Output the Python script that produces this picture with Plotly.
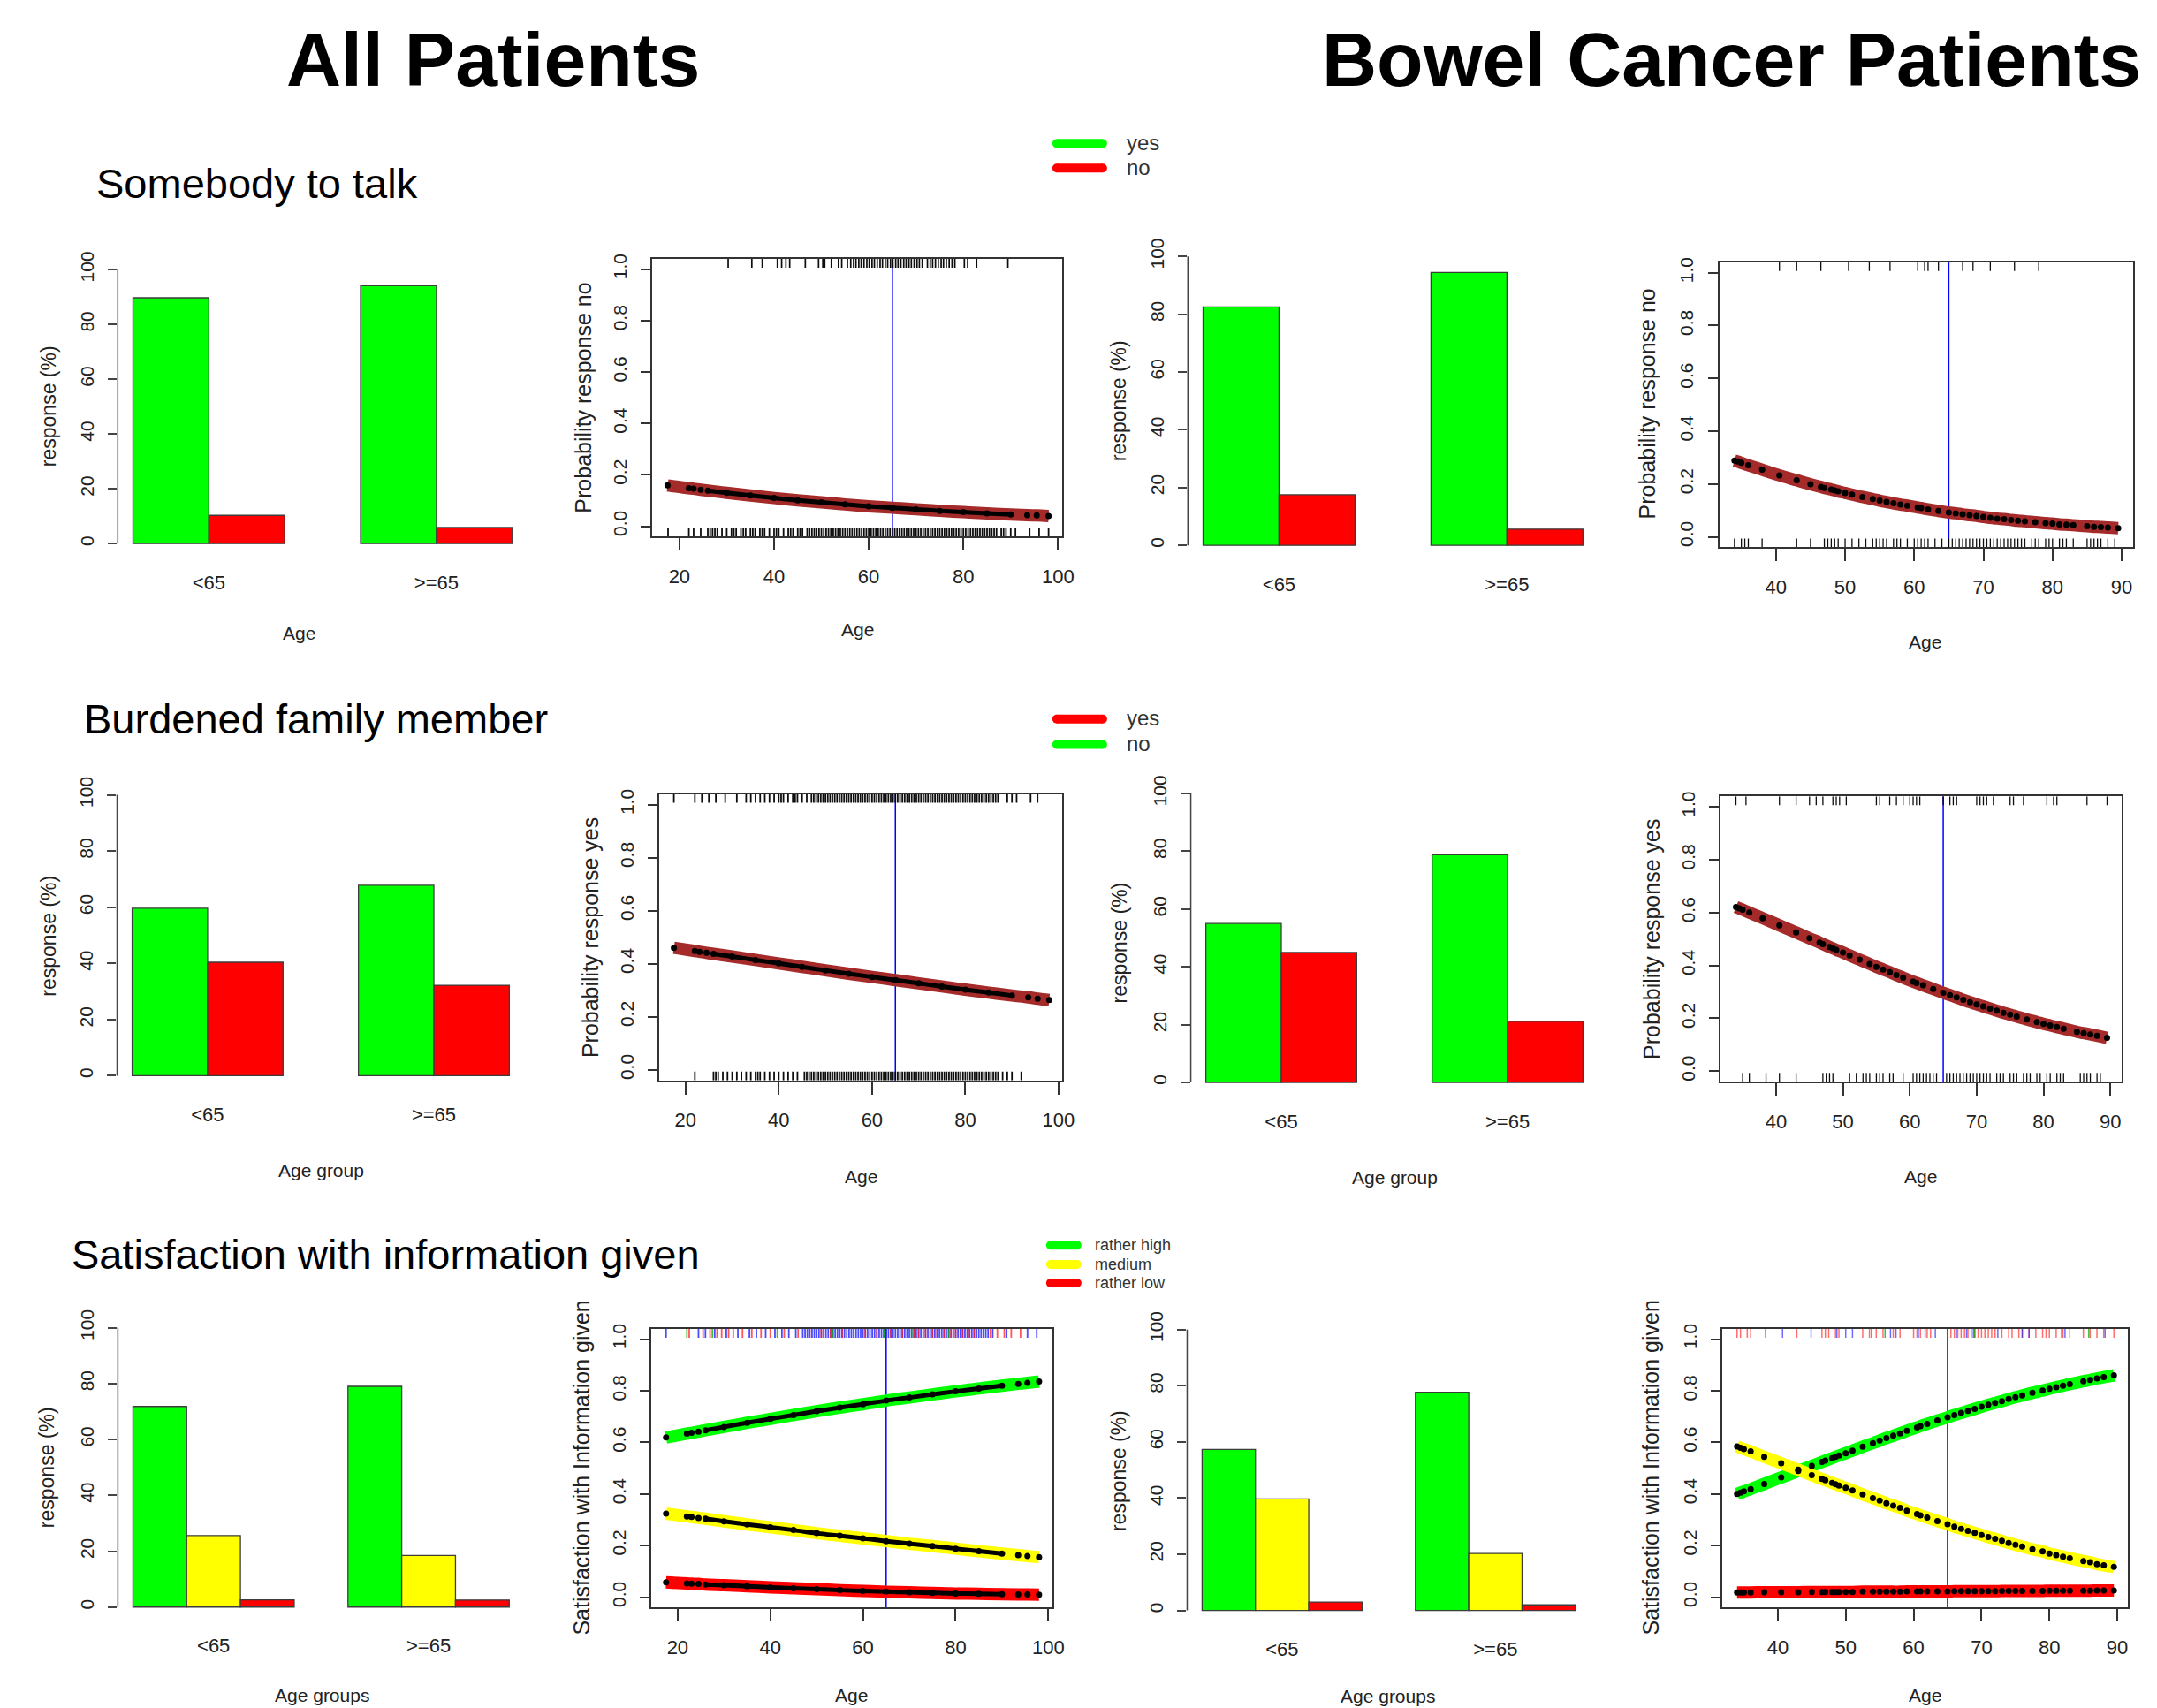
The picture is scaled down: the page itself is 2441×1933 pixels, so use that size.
import plotly.graph_objects as go

W, H = 2441, 1933
FONT = "Liberation Sans, Arial, Helvetica, sans-serif"
NARROW = "Liberation Sans Narrow, Arial Narrow, Liberation Sans, Arial, sans-serif"

GREEN, RED, YELLOW = "#00FF00", "#FF0000", "#FFFF00"
BROWN = "#A52A2A"
BLUE = "#0000FF"
INK = "#222222"

# ------------------------------------------------------------------ data
AGE_GROUPS = ["<65", ">=65"]
AGE_CUTOFF = 65

# Somebody to talk (green = yes, red = no), %
TALK_ALL_YES = [89.7, 94.1]
TALK_ALL_NO = [10.3, 5.9]
TALK_BOWEL_YES = [82.5, 94.4]
TALK_BOWEL_NO = [17.5, 5.6]
# Burdened family member (green = no, red = yes), %
BURDEN_ALL_NO = [59.6, 67.8]
BURDEN_ALL_YES = [40.4, 32.2]
BURDEN_BOWEL_NO = [55.0, 78.8]
BURDEN_BOWEL_YES = [45.0, 21.2]
# Satisfaction with information given, %
SAT_ALL_HIGH = [71.8, 79.0]
SAT_ALL_MED = [25.6, 18.5]
SAT_ALL_LOW = [2.6, 2.5]
SAT_BOWEL_HIGH = [57.3, 77.7]
SAT_BOWEL_MED = [39.7, 20.3]
SAT_BOWEL_LOW = [3.0, 2.0]

# fitted probabilities
ALL_CURVE_AGES = [17.5, 22, 23, 24.5, 26, 30, 35, 40, 45, 50, 55, 60, 65, 70, 75, 80, 85, 90, 93.5, 95.5, 98]
TALK_ALL_P_NO = [0.159, 0.148, 0.146, 0.142, 0.139, 0.130, 0.120, 0.110, 0.101, 0.093, 0.085,
                 0.078, 0.072, 0.066, 0.060, 0.055, 0.050, 0.046, 0.043, 0.042, 0.040]
BURDEN_ALL_P_YES = [0.460, 0.448, 0.445, 0.441, 0.437, 0.427, 0.414, 0.401, 0.388, 0.375, 0.362,
                    0.350, 0.338, 0.326, 0.314, 0.302, 0.291, 0.280, 0.273, 0.268, 0.263]
SAT_ALL_P_HIGH = [0.619, 0.634, 0.637, 0.642, 0.647, 0.660, 0.676, 0.691, 0.706, 0.721, 0.735,
                  0.748, 0.762, 0.774, 0.786, 0.798, 0.809, 0.820, 0.827, 0.831, 0.836]
SAT_ALL_P_MED = [0.324, 0.313, 0.311, 0.307, 0.304, 0.294, 0.282, 0.271, 0.260, 0.248, 0.238,
                 0.228, 0.217, 0.207, 0.198, 0.188, 0.178, 0.169, 0.163, 0.159, 0.155]
SAT_ALL_P_LOW = [0.057, 0.053, 0.052, 0.051, 0.049, 0.046, 0.042, 0.038, 0.034, 0.031, 0.027,
                 0.024, 0.021, 0.019, 0.016, 0.014, 0.013, 0.011, 0.010, 0.010, 0.0095]

BOWEL_CURVE_AGES = [34, 34.5, 35, 36, 38, 40.5, 43, 45, 46.5, 47, 48, 48.5, 49, 50, 51, 52.5, 54, 55,
                    56, 57, 58, 59, 60.5, 61, 62, 63.5, 65, 66, 67, 68, 69, 70, 71, 72, 73, 74, 75,
                    76, 77.5, 79, 80, 81, 82, 83, 85, 86, 87, 88, 89.5]
TALK_BOWEL_P_NO = [0.289, 0.285, 0.280, 0.271, 0.254, 0.233, 0.214, 0.199, 0.189, 0.185, 0.179,
                   0.176, 0.172, 0.166, 0.160, 0.151, 0.143, 0.137, 0.132, 0.127, 0.122, 0.118,
                   0.111, 0.109, 0.104, 0.098, 0.092, 0.089, 0.085, 0.082, 0.079, 0.075, 0.072,
                   0.069, 0.067, 0.064, 0.061, 0.059, 0.055, 0.052, 0.050, 0.047, 0.046, 0.044,
                   0.040, 0.038, 0.037, 0.035, 0.033]
BURDEN_BOWEL_P_YES = [0.621, 0.616, 0.611, 0.600, 0.579, 0.552, 0.525, 0.503, 0.487, 0.481, 0.470,
                      0.465, 0.459, 0.449, 0.438, 0.422, 0.406, 0.395, 0.385, 0.375, 0.364, 0.354,
                      0.339, 0.334, 0.325, 0.311, 0.297, 0.288, 0.279, 0.270, 0.261, 0.253, 0.245,
                      0.237, 0.229, 0.221, 0.214, 0.207, 0.196, 0.186, 0.179, 0.173, 0.167, 0.161,
                      0.149, 0.144, 0.139, 0.134, 0.126]
SAT_BOWEL_P_HIGH = [0.400, 0.405, 0.410, 0.419, 0.439, 0.464, 0.489, 0.509, 0.524, 0.529, 0.539,
                    0.544, 0.549, 0.558, 0.568, 0.583, 0.597, 0.607, 0.617, 0.626, 0.635, 0.645,
                    0.658, 0.663, 0.672, 0.685, 0.697, 0.706, 0.714, 0.722, 0.730, 0.738, 0.746,
                    0.753, 0.760, 0.768, 0.775, 0.782, 0.792, 0.801, 0.808, 0.814, 0.820, 0.826,
                    0.837, 0.842, 0.848, 0.853, 0.860]
SAT_BOWEL_P_MED = [0.584, 0.579, 0.574, 0.565, 0.544, 0.519, 0.494, 0.473, 0.458, 0.453, 0.443,
                   0.438, 0.433, 0.424, 0.414, 0.398, 0.384, 0.374, 0.364, 0.355, 0.346, 0.335,
                   0.322, 0.317, 0.308, 0.295, 0.283, 0.273, 0.265, 0.257, 0.249, 0.241, 0.233,
                   0.226, 0.218, 0.210, 0.203, 0.196, 0.186, 0.177, 0.169, 0.163, 0.157, 0.151,
                   0.140, 0.135, 0.128, 0.123, 0.117]
SAT_BOWEL_P_LOW = [0.018, 0.018, 0.018, 0.018, 0.019, 0.019, 0.019, 0.020, 0.020, 0.020, 0.020,
                   0.020, 0.020, 0.020, 0.020, 0.021, 0.021, 0.021, 0.021, 0.021, 0.021, 0.022,
                   0.022, 0.022, 0.022, 0.022, 0.022, 0.023, 0.023, 0.023, 0.023, 0.023, 0.023,
                   0.023, 0.024, 0.024, 0.024, 0.024, 0.024, 0.024, 0.025, 0.025, 0.025, 0.025,
                   0.025, 0.025, 0.026, 0.026, 0.026]

# rug ages (observations)
ALL_DENSE_AGES = [47, 47.5, 48, 48.5, 49, 49.5, 50, 50.5, 51, 51.5, 52, 52.5, 53, 53.5, 54, 54.5,
                  55, 55.5, 56, 56.5, 57, 57.5, 58, 58.5, 59, 59.5, 60, 60.5, 61, 61.5, 62, 62.5,
                  63, 63.5, 64, 64.5, 65, 65.5, 66, 66.5, 67, 67.5, 68, 68.5, 69, 69.5, 70, 70.5,
                  71, 71.5, 72, 72.5, 73, 73.5, 74, 74.5, 75, 75.5, 76, 76.5, 77, 77.5, 78, 78.5,
                  79, 79.5, 80, 80.5, 81, 81.5, 82, 82.5, 83, 83.5, 84, 84.5, 85, 85.5, 86, 86.5, 87]
TALK_ALL_RUG_NO = [30.3, 35.3, 37.5, 40.7, 41.6, 42.5, 43.3, 46.6, 49.4, 50.3, 50.7, 52.1, 53.6, 54.3,
                   55.5, 56.2, 56.8, 57.3, 57.9, 58.4, 59.0, 59.6, 60.1, 60.7, 61.2, 61.8, 62.4, 62.9,
                   63.5, 64.0, 64.6, 65.1, 65.7, 66.2, 66.8, 67.4, 67.9, 68.5, 69.0, 69.6, 70.2, 70.7,
                   71.3, 72.4, 73.0, 73.5, 74.1, 74.7, 75.3, 75.8, 76.4, 77.0, 77.6, 78.2, 80.2, 80.9,
                   82.8, 89.4]
TALK_ALL_RUG_YES = [17.6, 22, 23, 24.5, 26, 26.5, 27, 27.5, 28, 29, 30, 31, 31.5, 32, 33, 33.5, 34,
                    35, 35.5, 36, 37, 37.5, 38, 39, 40, 40.5, 41, 42, 43, 43.5, 44, 45, 45.5, 46] \
    + ALL_DENSE_AGES + [88, 88.5, 89, 90, 91, 94, 96, 98]
BURDEN_ALL_RUG_YES = [17.5, 22, 23.5, 25, 26.5, 28.5, 31, 33, 34, 35, 36, 37, 38, 39, 40, 40.5, 41,
                      42, 43, 43.5, 44, 45, 46] + ALL_DENSE_AGES + [89, 90, 91, 94, 95.5]
BURDEN_ALL_RUG_NO = [22, 26, 26.5, 27, 28, 29, 30, 31, 32, 33, 34, 35, 35.5, 36, 37, 38, 39, 40, 41,
                     42, 43, 44, 45.5, 46, 46.5] + ALL_DENSE_AGES + [88, 89, 90, 92]
SAT_ALL_RUG_BLUE = [17.5, 24.5, 26, 28, 30.5, 33, 35.5, 37, 39, 41, 42.5, 44, 45.5] \
    + ALL_DENSE_AGES + [88, 91, 95.5, 97.5]
SAT_ALL_RUG_RED = [22.5, 25.5, 27, 28.5, 29.5, 31, 32, 34, 36, 38, 40, 43, 46, 48.5, 51, 53, 55.5,
                   58, 60.5, 63, 66, 68.5, 71, 72, 73.5, 75, 76, 77.5, 79, 80, 81.5, 83, 84, 86,
                   87.5, 89, 90.5, 92, 94]
SAT_ALL_RUG_GREEN = [22, 27.5, 41.5, 53.5, 64.5, 70.5, 78.5]

TALK_BOWEL_RUG_NO = [40.5, 43, 46.5, 50.5, 53.5, 56.5, 60.5, 61.5, 62, 63.5, 67, 68.5, 71, 74.5, 78]
TALK_BOWEL_RUG_YES = [34, 35, 35.5, 36, 38, 43, 45, 47, 47.5, 48, 48.5, 49, 50, 51, 52, 53, 54, 54.5,
                      55, 55.5, 56, 57, 57.5, 58, 59, 60, 60.5, 61, 61.5, 62, 63, 64, 65, 65.5, 66,
                      66.5, 67, 67.5, 68, 68.5, 69, 69.5, 70, 70.5, 71, 71.5, 72, 72.5, 73, 73.5, 74,
                      74.5, 75, 75.5, 76, 77, 77.5, 78, 79, 79.5, 80, 81, 81.5, 82, 83, 85, 85.5,
                      86, 86.5, 87, 88, 89]
BURDEN_BOWEL_RUG_YES = [34, 35.5, 40.5, 43, 45, 46, 47, 48.5, 49, 49.5, 50.5, 55, 55.5, 57, 58, 59,
                        60, 60.5, 61, 61.5, 65, 66, 66.5, 67, 70, 70.5, 71, 71.5, 72.5, 75, 75.5,
                        77, 80.5, 81.5, 82, 86.5, 89.5]
BURDEN_BOWEL_RUG_NO = [35, 36, 38.5, 40.5, 43, 47, 47.5, 48, 48.5, 51, 52, 53, 53.5, 54, 55, 55.5,
                       56, 57, 57.5, 59, 60.5, 61, 61.5, 62, 62.5, 63, 63.5, 64, 65.5, 66, 66.5, 67,
                       67.5, 68, 68.5, 69, 69.5, 70, 70.5, 71, 71.5, 72, 73, 73.5, 74, 75, 75.5, 76,
                       77, 77.5, 78, 79, 79.5, 80.5, 81, 82, 82.5, 83, 85.5, 86, 86.5, 87, 88, 88.5]
SAT_BOWEL_RUG_RED = [34, 34.5, 35.5, 36, 42.8, 46.5, 47, 47.5, 48.5, 49, 52.5, 53.5, 54.5, 55.5, 57,
                     58, 60, 60.5, 61, 62, 62.5, 65, 65.5, 66, 66.5, 67, 67.5, 68, 68.5, 69, 69.5,
                     70, 70.5, 71, 71.5, 72, 73, 74, 74.5, 75.5, 76, 77, 78, 79, 79.5, 80, 81, 82,
                     83, 85, 86, 87, 88, 89.5]
SAT_BOWEL_RUG_BLUE = [38.2, 40.7, 44.9, 48.7, 50, 51, 53.8, 56.6, 57.4, 60.7, 61.7, 63.2, 66.3, 67.8,
                      68.8, 72.4, 76, 77, 81.8, 82.3, 88.2]
SAT_BOWEL_RUG_GREEN = [55.8, 69, 85.8]

# ------------------------------------------------------------------ helpers
fig = go.Figure()
shapes, annotations, axes = [], [], {}
ROW_DY = {1: -6, 2: -3, 3: 0}
SX = 1.0065          # horizontal correction of the captured page
TICK_FS = 22
XTITLE_FS = 21


def names(i):
    s = "" if i == 1 else str(i)
    return "x" + s, "y" + s, "xaxis" + s, "yaxis" + s


def px(x):
    return min(1.0, x * SX / W)


def py(y):
    return 1 - y / H


def text(s, x, y, size, family=FONT, angle=0, anchor="center", color=INK):
    annotations.append(dict(text=s, x=px(x), y=py(y), xref="paper", yref="paper", showarrow=False,
                            xanchor=anchor, yanchor="middle", textangle=angle,
                            font=dict(family=family, size=size, color=color)))


def bar_panel(i, box, series, colors, dy=0, standoff=16):
    x0, x1, ytop, ybot = box
    ytop += dy
    ybot += dy
    xr, yr, xa, ya = names(i)
    n = len(series)
    w = 1.0 / (n + 1)
    for k, (vals, col) in enumerate(zip(series, colors)):
        fig.add_trace(go.Bar(x=AGE_GROUPS, y=vals, xaxis=xr, yaxis=yr, width=w,
                             offset=-n * w / 2 + k * w,
                             marker=dict(color=col, line=dict(color="#3c3c3c", width=1.3)),
                             hoverinfo="skip"))
    ext = 0.04 * (2 * n + 1) * w
    axes[xa] = dict(domain=[px(x0), px(x1)], anchor=yr, type="category",
                    range=[-n * w / 2 - ext, 1 + n * w / 2 + ext],
                    showline=False, showgrid=False, zeroline=False, ticks="",
                    tickfont=dict(family=NARROW, size=TICK_FS, color=INK),
                    ticklabelstandoff=standoff)
    axes[ya] = dict(domain=[py(ybot), py(ytop)], anchor=xr, range=[-4, 104],
                    tickvals=[0, 20, 40, 60, 80, 100], ticks="outside", ticklen=10, tickwidth=1.5,
                    tickcolor="#444", tickangle=-90,
                    tickfont=dict(family=FONT, size=21, color=INK),
                    showline=False, showgrid=False, zeroline=False, ticklabelstandoff=8)
    shapes.append(dict(type="line", xref=xr + " domain", yref=yr, x0=0, x1=0, y0=0, y1=100,
                       line=dict(color="#444", width=1.5)))


def rug_trace(ages, y0, y1, color, width, xr, yr):
    xs, ys = [], []
    for a in ages:
        xs += [a, a, None]
        ys += [y0, y1, None]
    fig.add_trace(go.Scatter(x=xs, y=ys, mode="lines", line=dict(color=color, width=width),
                             xaxis=xr, yaxis=yr, hoverinfo="skip"))


def prob_panel(i, box, xrange_, xticks, curves, rugs, dense=None, dy=0):
    x0, x1, ytop, ybot = box
    ytop += dy
    ybot += dy
    xr, yr, xa, ya = names(i)
    ylo, yhi = -0.04, 1.04
    unit = (ybot - ytop) / (yhi - ylo)
    rlen = 10 / unit
    for ages, where, color, width in rugs:
        if where == "bottom":
            rug_trace(ages, ylo, ylo + rlen, color, width, xr, yr)
        else:
            rug_trace(ages, yhi - rlen, yhi, color, width, xr, yr)
    for ages, vals, band in curves:
        fig.add_trace(go.Scatter(x=ages, y=vals, mode="lines",
                                 line=dict(color=band, width=14, shape="spline"),
                                 xaxis=xr, yaxis=yr, hoverinfo="skip"))
    for ages, vals, band in curves:
        if dense:
            da = [a for a in ages if dense[0] <= a <= dense[1]]
            dv = [v for a, v in zip(ages, vals) if dense[0] <= a <= dense[1]]
            fig.add_trace(go.Scatter(x=da, y=dv, mode="lines",
                                     line=dict(color="black", width=5, shape="spline"),
                                     xaxis=xr, yaxis=yr, hoverinfo="skip"))
        fig.add_trace(go.Scatter(x=ages, y=vals, mode="markers",
                                 marker=dict(color="black", size=7),
                                 xaxis=xr, yaxis=yr, hoverinfo="skip"))
    axes[xa] = dict(domain=[px(x0), px(x1)], anchor=yr, range=xrange_, tickvals=xticks,
                    ticks="outside", ticklen=14, tickwidth=1.5, tickcolor="#333",
                    showline=True, mirror=True, linecolor="#333", linewidth=2,
                    showgrid=False, zeroline=False,
                    tickfont=dict(family=NARROW, size=TICK_FS, color=INK), ticklabelstandoff=10)
    axes[ya] = dict(domain=[py(ybot), py(ytop)], anchor=xr, range=[ylo, yhi],
                    tickvals=[0, 0.2, 0.4, 0.6, 0.8, 1.0],
                    ticktext=["0.0", "0.2", "0.4", "0.6", "0.8", "1.0"],
                    ticks="outside", ticklen=11, tickwidth=1.5, tickcolor="#333", tickangle=-90,
                    showline=True, mirror=True, linecolor="#333", linewidth=2,
                    showgrid=False, zeroline=False,
                    tickfont=dict(family=FONT, size=21, color=INK), ticklabelstandoff=8)
    shapes.append(dict(type="line", xref=xr, yref=yr + " domain", x0=AGE_CUTOFF, x1=AGE_CUTOFF,
                       y0=0, y1=1, line=dict(color=BLUE, width=1.5), layer="below"))


def legend_key(xa, xb, y, color, thick=10):
    r = thick / 2
    shapes.append(dict(type="line", xref="paper", yref="paper", x0=px(xa + r), x1=px(xb - r),
                       y0=py(y), y1=py(y), line=dict(color=color, width=thick)))
    for cx in (xa + r, xb - r):
        shapes.append(dict(type="circle", xref="paper", yref="paper", x0=px(cx - r), x1=px(cx + r),
                           y0=py(y + r), y1=py(y - r), fillcolor=color, line=dict(width=0)))


BLACK_RUG = "rgba(0,0,0,0.95)"

# ------------------------------------------------------------------ panels
d = ROW_DY[1]
bar_panel(1, (133.2, 596.5, 291.8, 628.2), [TALK_ALL_YES, TALK_ALL_NO], [GREEN, RED], dy=d)
prob_panel(2, (737.8, 1201.3, 292.3, 607.7), [14.3, 100.9], [20, 40, 60, 80, 100],
           [(ALL_CURVE_AGES, TALK_ALL_P_NO, BROWN)],
           [(TALK_ALL_RUG_NO, "top", BLACK_RUG, 1.7),
            (TALK_ALL_RUG_YES, "bottom", BLACK_RUG, 1.8)], dense=(25, 92), dy=d)
bar_panel(3, (1343.3, 1807.2, 276.2, 630.8), [TALK_BOWEL_YES, TALK_BOWEL_NO], [GREEN, RED], dy=d)
prob_panel(4, (1944.2, 2411.8, 296.0, 620.0), [31.8, 91.6], [40, 50, 60, 70, 80, 90],
           [(BOWEL_CURVE_AGES, TALK_BOWEL_P_NO, BROWN)],
           [(TALK_BOWEL_RUG_NO, "top", BLACK_RUG, 1.3),
            (TALK_BOWEL_RUG_YES, "bottom", BLACK_RUG, 1.3)], dy=d)

d = ROW_DY[2]
bar_panel(5, (132.4, 593.0, 885.5, 1230.2), [BURDEN_ALL_NO, BURDEN_ALL_YES], [GREEN, RED], dy=d)
prob_panel(6, (745.7, 1201.3, 897.3, 1222.7), [14.4, 100.8], [20, 40, 60, 80, 100],
           [(ALL_CURVE_AGES, BURDEN_ALL_P_YES, BROWN)],
           [(BURDEN_ALL_RUG_YES, "top", BLACK_RUG, 1.8),
            (BURDEN_ALL_RUG_NO, "bottom", BLACK_RUG, 1.8)], dense=(25, 92), dy=d)
bar_panel(7, (1346.6, 1807.2, 883.6, 1238.3), [BURDEN_BOWEL_NO, BURDEN_BOWEL_YES], [GREEN, RED], dy=d)
prob_panel(8, (1945.7, 2399.0, 900.0, 1224.3), [31.7, 91.65], [40, 50, 60, 70, 80, 90],
           [(BOWEL_CURVE_AGES, BURDEN_BOWEL_P_YES, BROWN)],
           [(BURDEN_BOWEL_RUG_YES, "top", BLACK_RUG, 1.3),
            (BURDEN_BOWEL_RUG_NO, "bottom", BLACK_RUG, 1.3)], dy=d)

d = ROW_DY[3]
bar_panel(9, (133.3, 592.9, 1488.1, 1831.0), [SAT_ALL_HIGH, SAT_ALL_MED, SAT_ALL_LOW],
          [GREEN, YELLOW, RED], dy=d)
prob_panel(10, (736.6, 1190.2, 1502.2, 1818.7), [14.33, 100.9], [20, 40, 60, 80, 100],
           [(ALL_CURVE_AGES, SAT_ALL_P_HIGH, GREEN), (ALL_CURVE_AGES, SAT_ALL_P_MED, YELLOW),
            (ALL_CURVE_AGES, SAT_ALL_P_LOW, RED)],
           [(SAT_ALL_RUG_BLUE, "top", "rgba(30,30,255,0.8)", 1.8),
            (SAT_ALL_RUG_RED, "top", "rgba(255,30,30,0.75)", 1.8),
            (SAT_ALL_RUG_GREEN, "top", "rgba(0,170,0,0.75)", 1.8)], dense=(25, 92), dy=d)
bar_panel(11, (1342.5, 1798.4, 1490.1, 1834.9), [SAT_BOWEL_HIGH, SAT_BOWEL_MED, SAT_BOWEL_LOW],
          [GREEN, YELLOW, RED], dy=d)
prob_panel(12, (1947.7, 2406.0, 1502.2, 1818.7), [31.83, 91.52], [40, 50, 60, 70, 80, 90],
           [(BOWEL_CURVE_AGES, SAT_BOWEL_P_HIGH, GREEN), (BOWEL_CURVE_AGES, SAT_BOWEL_P_MED, YELLOW),
            (BOWEL_CURVE_AGES, SAT_BOWEL_P_LOW, RED)],
           [(SAT_BOWEL_RUG_RED, "top", "rgba(255,30,30,0.65)", 1.5),
            (SAT_BOWEL_RUG_BLUE, "top", "rgba(30,30,255,0.65)", 1.5),
            (SAT_BOWEL_RUG_GREEN, "top", "rgba(0,170,0,0.75)", 1.5)], dy=d)

# ------------------------------------------------------------------ texts
text("<b>All Patients</b>", 558, 59, 86, color="black")
text("<b>Bowel Cancer Patients</b>", 1958, 59, 86, color="black")
text("Somebody to talk", 107, 200, 47, anchor="left", color="black")
text("Burdened family member", 93, 809, 47, anchor="left", color="black")
text("Satisfaction with information given", 79, 1417, 47, anchor="left", color="black")

# axis titles (row 1)
d = ROW_DY[1]
text("response (%)", 55, 460 + d, 23, angle=-90)
text("Age", 338, 717 + d, XTITLE_FS, family=NARROW)
text("Probability response no", 660, 450 + d, 25, angle=-90)
text("Age", 970, 713 + d, XTITLE_FS, family=NARROW)
text("response (%)", 1265, 453 + d, 23, angle=-90)
text("Probability response no", 1863, 457 + d, 25, angle=-90)
text("Age", 2177, 727 + d, XTITLE_FS, family=NARROW)
# row 2
d = ROW_DY[2]
text("response (%)", 55, 1059 + d, 23, angle=-90)
text("Age group", 363, 1325 + d, XTITLE_FS, family=NARROW)
text("Probability response yes", 667, 1060 + d, 25, angle=-90)
text("Age", 974, 1332 + d, XTITLE_FS, family=NARROW)
text("response (%)", 1266, 1066 + d, 23, angle=-90)
text("Age group", 1577, 1333 + d, XTITLE_FS, family=NARROW)
text("Probability response yes", 1867, 1062 + d, 25, angle=-90)
text("Age", 2172, 1332 + d, XTITLE_FS, family=NARROW)
# row 3
text("response (%)", 53, 1660, 23, angle=-90)
text("Age groups", 364, 1918, XTITLE_FS, family=NARROW)
text("Satisfaction with Information given", 658, 1660, 25, angle=-90)
text("Age", 963, 1918, XTITLE_FS, family=NARROW)
text("response (%)", 1265, 1663, 23, angle=-90)
text("Age groups", 1569, 1919, XTITLE_FS, family=NARROW)
text("Satisfaction with Information given", 1867, 1660, 25, angle=-90)
text("Age", 2177, 1918, XTITLE_FS, family=NARROW)

# legends
legend_key(1190, 1252, 155, GREEN)
legend_key(1190, 1252, 183, RED)
text("yes", 1272, 154, 24, anchor="left", color="#333")
text("no", 1272, 182, 24, anchor="left", color="#333")
legend_key(1190, 1252, 809, RED)
legend_key(1190, 1252, 838, GREEN)
text("yes", 1272, 808, 24, anchor="left", color="#333")
text("no", 1272, 837, 24, anchor="left", color="#333")
legend_key(1183, 1223, 1407, GREEN)
legend_key(1183, 1223, 1429, YELLOW)
legend_key(1183, 1223, 1450, RED)
text("rather high", 1236, 1407, 18, anchor="left", color="#333")
text("medium", 1236, 1429, 18, anchor="left", color="#333")
text("rather low", 1236, 1450, 18, anchor="left", color="#333")

fig.update_layout(width=W, height=H, margin=dict(l=0, r=0, t=0, b=0), showlegend=False,
                  paper_bgcolor="white", plot_bgcolor="white", barmode="overlay",
                  shapes=shapes, annotations=annotations, font=dict(family=FONT, color=INK),
                  **axes)
fig.write_html("out.html", config={"displayModeBar": False},
               post_script="document.body.style.margin='0';document.body.style.overflow='hidden';")
